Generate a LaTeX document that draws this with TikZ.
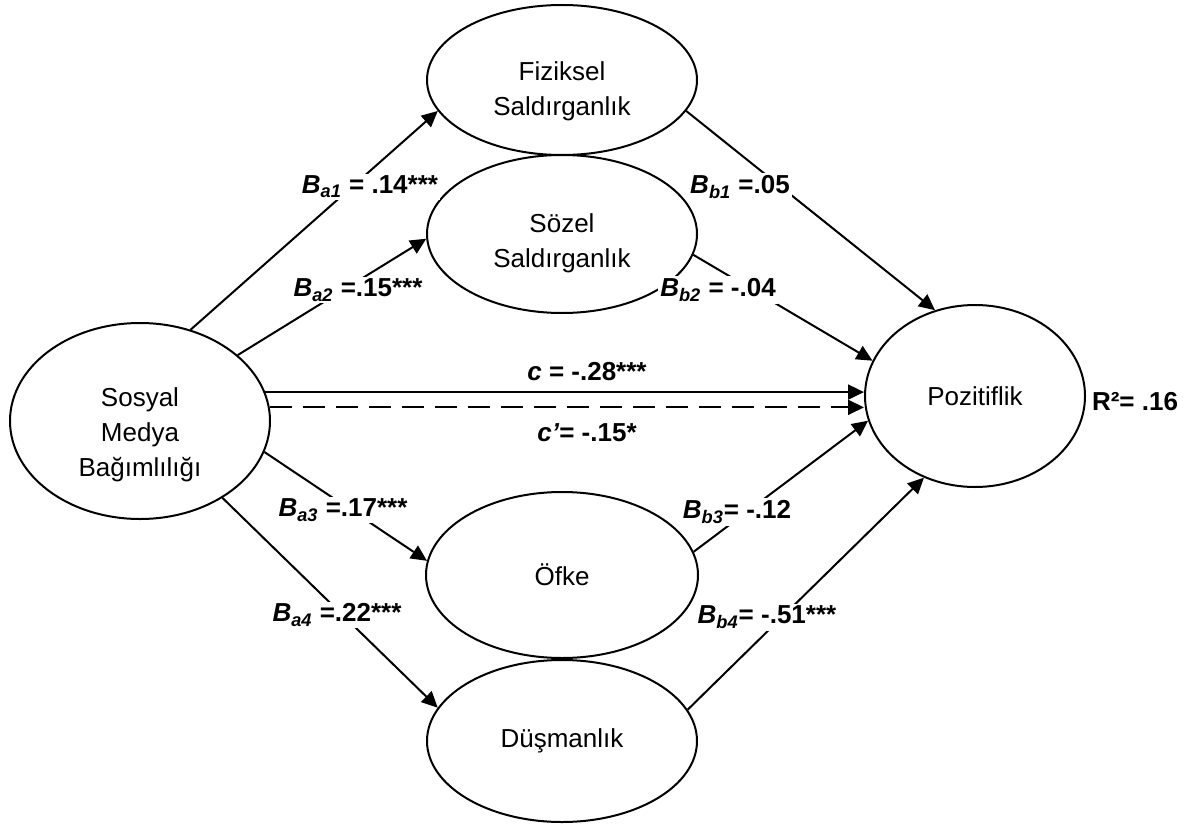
\documentclass[tikz,border=0pt]{standalone}
\usepackage{fontspec}
\setmainfont{Liberation Sans}
\usetikzlibrary{shapes.geometric,arrows.meta}
\newcommand{\bcoef}[1]{\textbf{\textit{B}}\textsubscript{\textbf{\textit{#1}}}}

\begin{document}
\begin{tikzpicture}[x=0.5pt,y=-0.5pt]
\useasboundingbox (0,0) rectangle (1188,824);

% definitions
\tikzstyle{latent} = [ellipse, draw=black, line width=1pt, inner sep=0pt, align=center, font=\fontsize{13}{17.5}\selectfont]

\tikzstyle{coef} = [fill=white, inner sep=1pt, font=\fontsize{13}{15}\selectfont\bfseries]

\tikzstyle{arrow} = [line width=1pt, -{Triangle[length=8pt,width=7.5pt]}]

% the model
\node (sm) [latent, minimum width=130pt, minimum height=98pt] at (140,421) {\rule{0pt}{23.5pt}Sosyal\\Medya\\Bağımlılığı};

\node (fs) [latent, minimum width=135pt, minimum height=75pt] at (562,80) {\rule{0pt}{20.5pt}Fiziksel\\Saldırganlık};

\node (ss) [latent, minimum width=135pt, minimum height=79pt] at (562,234) {\rule{0pt}{18.5pt}Sözel\\Saldırganlık};

\node (of) [latent, minimum width=136pt, minimum height=83pt] at (562,575) {Öfke};

\node (dm) [latent, minimum width=135pt, minimum height=81pt] at (562,741) {Düşmanlık};

\node (pz) [latent, minimum width=110pt, minimum height=91pt] at (975,396) {Pozitiflik};

% a paths
\draw [arrow] (sm.61) -- (fs.194.5);
\draw [arrow] (sm.34) -- (ss.182);
\draw [arrow] (sm.346) -- (of.174);
\draw [arrow] (sm.317) -- (dm.165);

% b paths
\draw [arrow] (fs.346) -- (pz.115.5);
\draw [arrow] (ss.351) -- (pz.161);
\draw [arrow] (of.10.5) -- (pz.193.5);
\draw [arrow] (dm.14.5) -- (pz.238.8);

% c and c'
\draw [arrow] (sm.13.6) -- (sm.13.6 -| pz.west);
\draw [arrow, dash pattern=on 11pt off 5.5pt] (sm.6.2) -- (sm.6.2 -| pz.west);

% coefficients
\node (ba1) [coef] at (370,187) {\bcoef{a1} = .14***};
\node (ba2) [coef] at (358,290) {\bcoef{a2} =.15***};
\node (ba3) [coef] at (343,510) {\bcoef{a3} =.17***};
\node (ba4) [coef] at (337,615) {\bcoef{a4} =.22***};

\node (bb1) [coef] at (740,187) {\bcoef{b1} =.05};
\node (bb2) [coef] at (718,290) {\bcoef{b2} = -.04};
\node (bb3) [coef] at (737,512) {\bcoef{b3}= -.12};
\node (bb4) [coef] at (767,617) {\bcoef{b4}= -.51***};

\node (cc) [coef] at (587,372) {\textit{c} = -.28***};
\node (cp) [coef] at (587,433) {\textit{c’}= -.15*};

\node (r2) [coef] at (1135,402) {R²= .16};

\end{tikzpicture}
\end{document}
